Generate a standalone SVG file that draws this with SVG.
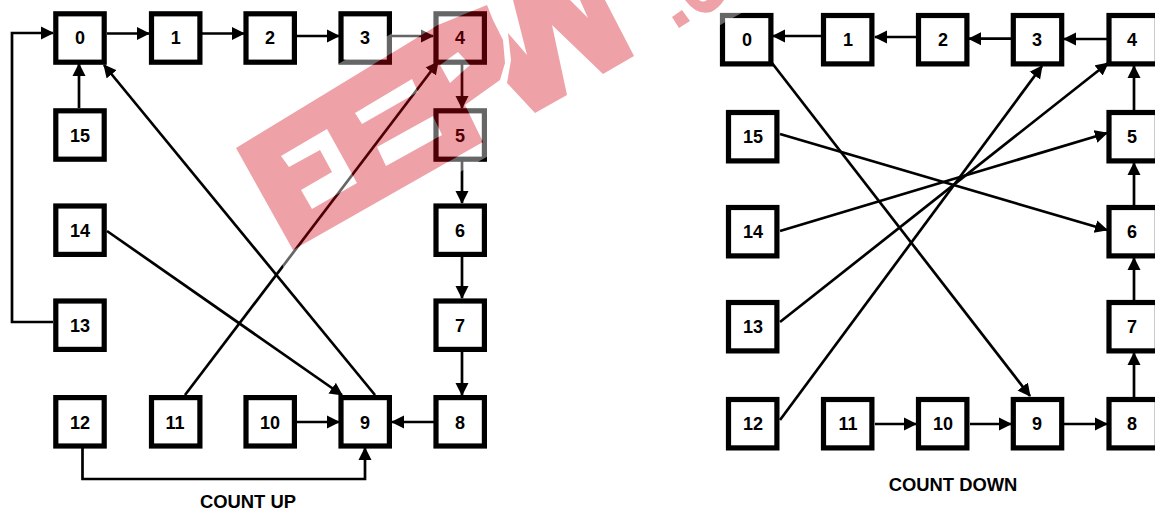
<svg xmlns="http://www.w3.org/2000/svg" width="1155" height="514" viewBox="0 0 1155 514">
<style>
.b{fill:#fff;stroke:#000;stroke-width:5.2}
.t{font:bold 18px "Liberation Sans",Arial,sans-serif;text-anchor:middle;fill:#000}
.l{font:bold 18.4px "Liberation Sans",Arial,sans-serif;text-anchor:middle;fill:#000}
.c{fill:none;stroke:#000;stroke-width:2.7;marker-end:url(#a)}
</style>
<defs>
<marker id="a" markerUnits="userSpaceOnUse" markerWidth="15" markerHeight="15" refX="12" refY="7" orient="auto"><path d="M0 0.5L13 7L0 13.5Z" fill="#000"/></marker>
</defs>
<rect width="1155" height="514" fill="#fff"/>
<g id="connectors">
<path class="c" d="M107 33.5H149"/>
<path class="c" d="M202 33.5H244"/>
<path class="c" d="M297 36H339"/>
<path class="c" d="M392 36H433"/>
<path class="c" d="M462 64V108"/>
<path class="c" d="M462 161V203"/>
<path class="c" d="M462 256V298"/>
<path class="c" d="M462 351V395"/>
<path class="c" d="M434 422H392"/>
<path class="c" d="M297 422H339"/>
<path class="c" d="M82.5 448V479H365V448"/>
<path class="c" d="M53 322H12V33H53"/>
<path class="c" d="M79 108V64"/>
<path class="c" d="M375 395L104 65"/>
<path class="c" d="M107 231L342 395"/>
<path class="c" d="M185 395L438 62"/>
<path class="c" d="M822 36H773"/>
<path class="c" d="M917 37H875"/>
<path class="c" d="M1011 38.7H969"/>
<path class="c" d="M1107 39H1064"/>
<path class="c" d="M1134 110V66"/>
<path class="c" d="M1134 205V163"/>
<path class="c" d="M1134 300V258"/>
<path class="c" d="M1134 397V353"/>
<path class="c" d="M875 424H916"/>
<path class="c" d="M970 424H1011"/>
<path class="c" d="M1064 424H1107"/>
<path class="c" d="M772 63L1030 396"/>
<path class="c" d="M780 134L1107 230"/>
<path class="c" d="M780 231L1107 133"/>
<path class="c" d="M780 322L1108 63"/>
<path class="c" d="M780 420L1042 66"/>
</g>
<g id="n0"><rect class="b" x="55.8" y="13.8" width="48.4" height="48.4"/><text class="t" x="80" y="44">0</text></g>
<g id="n1"><rect class="b" x="151.5" y="13.8" width="48.4" height="48.4"/><text class="t" x="175.7" y="44">1</text></g>
<g id="n2"><rect class="b" x="246" y="13.8" width="48.4" height="48.4"/><text class="t" x="270" y="44">2</text></g>
<g id="n3"><rect class="b" x="341" y="13.8" width="48.4" height="48.4"/><text class="t" x="365" y="44">3</text></g>
<g id="n4"><rect class="b" x="436" y="13.8" width="48.4" height="48.4"/><text class="t" x="460" y="44">4</text></g>
<g id="n5"><rect class="b" x="436" y="110.8" width="48.4" height="48.4"/><text class="t" x="460" y="142">5</text></g>
<g id="n6"><rect class="b" x="436" y="206" width="48.4" height="48.4"/><text class="t" x="460" y="237">6</text></g>
<g id="n7"><rect class="b" x="436" y="301" width="48.4" height="48.4"/><text class="t" x="460" y="332">7</text></g>
<g id="n8"><rect class="b" x="436" y="397.6" width="48.4" height="48.4"/><text class="t" x="460" y="429">8</text></g>
<g id="n9"><rect class="b" x="341" y="397.6" width="48.4" height="48.4"/><text class="t" x="365" y="429">9</text></g>
<g id="n10"><rect class="b" x="246" y="397.6" width="48.4" height="48.4"/><text class="t" x="270" y="429">10</text></g>
<g id="n11"><rect class="b" x="151.5" y="397.6" width="48.4" height="48.4"/><text class="t" x="175" y="429">11</text></g>
<g id="n12"><rect class="b" x="55.8" y="397.6" width="48.4" height="48.4"/><text class="t" x="80" y="429">12</text></g>
<g id="n13"><rect class="b" x="55.8" y="301" width="48.4" height="48.4"/><text class="t" x="80" y="332">13</text></g>
<g id="n14"><rect class="b" x="55.8" y="206" width="48.4" height="48.4"/><text class="t" x="80" y="237">14</text></g>
<g id="n15"><rect class="b" x="55.8" y="110.8" width="48.4" height="48.4"/><text class="t" x="80" y="142">15</text></g>
<g id="m0"><rect class="b" x="722.5" y="15.5" width="48.4" height="48.4"/><text class="t" x="747" y="46">0</text></g>
<g id="m1"><rect class="b" x="823.5" y="15.5" width="48.4" height="48.4"/><text class="t" x="848" y="46">1</text></g>
<g id="m2"><rect class="b" x="918.5" y="15.5" width="48.4" height="48.4"/><text class="t" x="943" y="46">2</text></g>
<g id="m3"><rect class="b" x="1013.3" y="15.5" width="48.4" height="48.4"/><text class="t" x="1037" y="46">3</text></g>
<g id="m4"><rect class="b" x="1109" y="15.5" width="48.4" height="48.4"/><text class="t" x="1132" y="46">4</text></g>
<g id="m5"><rect class="b" x="1109" y="112.5" width="48.4" height="48.4"/><text class="t" x="1132" y="143">5</text></g>
<g id="m6"><rect class="b" x="1109" y="207.5" width="48.4" height="48.4"/><text class="t" x="1132" y="238">6</text></g>
<g id="m7"><rect class="b" x="1109" y="302.5" width="48.4" height="48.4"/><text class="t" x="1132" y="333">7</text></g>
<g id="m8"><rect class="b" x="1109" y="399.5" width="48.4" height="48.4"/><text class="t" x="1132" y="430">8</text></g>
<g id="m9"><rect class="b" x="1013.3" y="399.5" width="48.4" height="48.4"/><text class="t" x="1037" y="430">9</text></g>
<g id="m10"><rect class="b" x="918.5" y="399.5" width="48.4" height="48.4"/><text class="t" x="943" y="430">10</text></g>
<g id="m11"><rect class="b" x="823.5" y="399.5" width="48.4" height="48.4"/><text class="t" x="848" y="430">11</text></g>
<g id="m12"><rect class="b" x="728.5" y="399.5" width="48.4" height="48.4"/><text class="t" x="753" y="430">12</text></g>
<g id="m13"><rect class="b" x="728.5" y="302.5" width="48.4" height="48.4"/><text class="t" x="753" y="333">13</text></g>
<g id="m14"><rect class="b" x="728.5" y="207.5" width="48.4" height="48.4"/><text class="t" x="753" y="238">14</text></g>
<g id="m15"><rect class="b" x="728.5" y="112.5" width="48.4" height="48.4"/><text class="t" x="753" y="143">15</text></g>
<text class="l" x="248" y="508">COUNT UP</text>
<text class="l" x="953" y="491">COUNT DOWN</text>
<defs>
<path id="wm" d="M236 148L438 25L487 5L493 20L503 40L505 63L500 80L465 105L483 142L293 250Z
M281 156L327 129L357 183L312 209L301 190L332 172L320 150L289 167Z
M377 147L433 116L442 135L386 166Z
M355 113L412 79L418 92L362 124Z
M440 65L458 52L470 65L450 83Z
M507 83L535 113L567 95L552 25L603 74L634 56L605 0L580 0L588 18L570 0L513 0L527 55L508 33L511 60Z
M672 17L682 10L690 21L679 28Z
M685 0Q697 16 711 12Q719 8 724 0L707 0Q703 3 699 0Z"/>
</defs>
<path id="watermark-halo" fill="#fff" fill-opacity=".4" fill-rule="evenodd" d="M225 128L640 -107L830 -37L285 271Z
M236 148L438 25L487 5L493 20L503 40L505 63L500 80L465 105L483 142L293 250Z
M281 156L327 129L357 183L312 209L301 190L332 172L320 150L289 167Z
M377 147L433 116L442 135L386 166Z
M355 113L412 79L418 92L362 124Z
M440 65L458 52L470 65L450 83Z
M507 83L535 113L567 95L552 25L603 74L634 56L605 0L580 0L588 18L570 0L513 0L527 55L508 33L511 60Z
M672 17L682 10L690 21L679 28Z
M685 0Q697 16 711 12Q719 8 724 0L707 0Q703 3 699 0Z"/>
<use id="watermark" href="#wm" fill="#d2000f" fill-opacity=".37" fill-rule="evenodd"/>
</svg>
